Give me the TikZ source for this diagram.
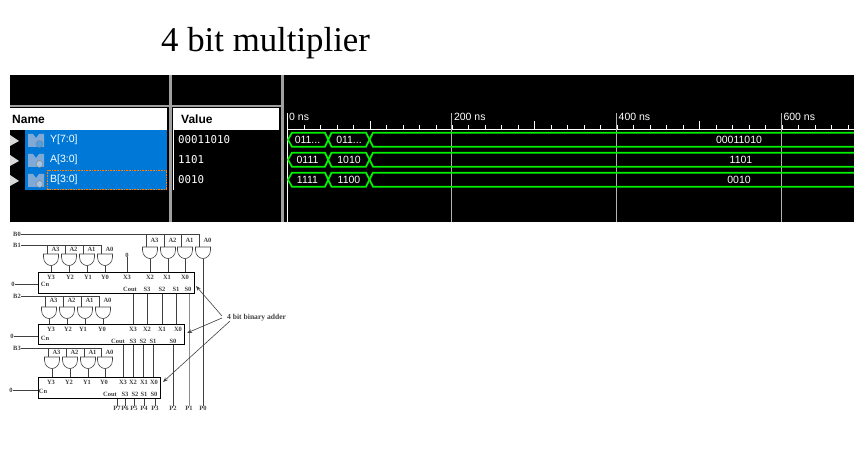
\documentclass[tikz,border=0pt]{standalone}
\usepackage{fontspec}
\setmainfont{Liberation Serif}
\newfontfamily\uifont{Liberation Sans}
\newfontfamily\valfont{DejaVu Sans Mono}
\usetikzlibrary{arrows.meta}
\definecolor{selblue}{HTML}{0078D7}
\definecolor{wavegreen}{HTML}{00F000}
\definecolor{sepgray}{HTML}{A0A0A0}
\definecolor{icongray}{HTML}{7FA9D6}
\definecolor{wirec}{gray}{0.25}
\newcommand{\cuttxt}{011\ignorespaces...}
% name, centre x, top y
\newcommand{\andgate}[3]{
    \coordinate (#1in) at (#2-3.5,#3);
    \coordinate (#1lab) at (#2+3.5,#3);
    \coordinate (#1out) at (#2,#3+11.5);
    \draw[wire] (#2-7.5,#3) -- (#2+7.5,#3) -- (#2+7.5,#3+3)
        .. controls (#2+7.5,#3+9) and (#2+3,#3+11.5) .. (#2,#3+11.5)
        .. controls (#2-3,#3+11.5) and (#2-7.5,#3+9) .. (#2-7.5,#3+3) -- cycle;
}
\tikzset{
    headtxt/.style={font=\uifont\bfseries\fontsize{12}{12}\selectfont, text=black, inner sep=0pt, anchor=west},
    sigtxt/.style={font=\uifont\fontsize{10.5}{11}\selectfont, text=white, inner sep=0pt, anchor=west},
    valtxt/.style={font=\valfont\fontsize{10.8}{11}\selectfont, text=white, inner sep=0pt, anchor=west},
    timetxt/.style={font=\uifont\fontsize{10.5}{11}\selectfont, text=white, inner sep=0pt, anchor=west},
    wavetxt/.style={font=\uifont\fontsize{10.5}{11}\selectfont, text=white, inner sep=0pt},
    wave/.style={draw=wavegreen, line width=1.8pt},
    port/.style={font=\bfseries\fontsize{6.5}{6.5}\selectfont, text=wirec, inner sep=0pt},
    adder/.style={draw=black, line width=0.8pt, anchor=north west, inner sep=0pt},
    wire/.style={draw=wirec, line width=0.6pt},
}
\begin{document}
\begin{tikzpicture}[x=1pt,y=-1pt]
    \useasboundingbox (0,0) rectangle (854,457);
    \node[inner sep=0pt, anchor=base west, font=\fontsize{34.8}{36}\selectfont] (title) at (161,52) {4 bit multiplier};

    % Simulator panels
    \fill[black] (10,75) rectangle (854,222);
    \fill[sepgray] (168.5,75) rectangle (171.5,222);
    \fill[sepgray] (281,75) rectangle (284,222);
    \fill[sepgray] (10,105) rectangle (168.5,107);
    \fill[sepgray] (171.5,105) rectangle (281,107);
    \fill[white] (10,108) rectangle (167,130);
    \fill[white] (173,108) rectangle (279,130);
    \fill[selblue] (25,130) rectangle (167,190);
    \draw[white, line width=0.7pt] (173.5,130) -- (173.5,190);
    \node[headtxt] (namehead) at (12,119) {Name};
    \node[headtxt] (valhead) at (181,119) {Value};

    % Signal rows
    \foreach \n/\s/\v/\y/\c in {y/Y[7:0]/00011010/140/selblue,a/A[3:0]/1101/160/icongray,b/B[3:0]/0010/180/icongray} {
        \fill[black!15] (10,\y-5) -- (19,\y+1) -- (10,\y+6) -- cycle;
        \fill[icongray] (28,\y-6) -- (33,\y-6) -- (36,\y-2) -- (39,\y-6) -- (44,\y-6) -- (44,\y+7) -- (28,\y+7) -- cycle;
        \filldraw[draw=black!50, fill=\c!70!white] (39.5,\y+4) circle (3.5pt);
        \node[sigtxt] (sig\n) at (50,\y) {\s};
        \node[valtxt] (val\n) at (178,\y) {\v};
    }
    \draw[orange, densely dotted, line width=0.6pt] (47.5,170) rectangle (166.5,189.5);

    % Time axis
    \draw[white, line width=0.8pt] (287,129.5) -- (854,129.5);
    \draw[white, line width=0.8pt] (287.5,113) -- (287.5,222);
    \foreach \k in {1,...,34} {
        \draw[white, line width=0.6pt] (287.5+16.48*\k,125) -- (287.5+16.48*\k,129);
    }
    \foreach \k in {5,15,25} {
        \draw[white, line width=0.6pt] (287.5+16.48*\k,121) -- (287.5+16.48*\k,129);
    }
    \foreach \x/\t/\n in {451.8/200/b,616.5/400/c,781.3/600/d} {
        \draw[black!30, line width=0.7pt] (\x,113) -- (\x,222);
        \node[timetxt] (time\n) at (\x+2,117) {\t\ ns};
    }
    \node[timetxt] (timea) at (289,117) {0 ns};

    % Waves
    \foreach \n/\y/\p/\q/\r/\xr in {y/139.7/\cuttxt/\cuttxt/00011010/739,a/159.7/0111/1010/1101/741,b/179.7/1111/1100/0010/739} {
        \draw[wave] (288,\y) -- (292,\y-7) -- (325,\y-7) -- (331.5,\y+7) -- (366,\y+7) -- (369.5,\y) -- (366,\y-7) -- (331.5,\y-7) -- (325,\y+7) -- (292,\y+7) -- cycle;
        \draw[wave] (854,\y-7) -- (373,\y-7) -- (369.5,\y) -- (373,\y+7) -- (854,\y+7);
        \node[wavetxt] (w\n a) at (307.5,\y) {\p};
        \node[wavetxt] (w\n b) at (349,\y) {\q};
        \node[wavetxt] (w\n c) at (\xr,\y) {\r};
    }

    % Adders
    \node[adder, minimum width=156pt, minimum height=21pt] (addone) at (38,272) {};
    \node[adder, minimum width=146pt, minimum height=20pt] (addtwo) at (38,324) {};
    \node[adder, minimum width=122pt, minimum height=21pt] (addthree) at (38,377) {};

    % Partial product gates
    \foreach \i/\x in {3/150,2/168,1/185,0/203} {\andgate{gz\i}{\x}{247}}
    \foreach \i/\x in {3/51,2/69,1/87,0/105} {\andgate{ga\i}{\x}{254}}
    \foreach \i/\x in {3/49,2/67,1/85,0/103} {\andgate{gb\i}{\x}{307}}
    \foreach \i/\x in {3/52,2/70,1/88,0/105} {\andgate{gc\i}{\x}{357}}

    % Multiplier bit wires
    \node[port] (bzero) at (17,234) {B0};
    \node[port] (bone) at (17,245) {B1};
    \node[port] (btwo) at (17,296) {B2};
    \node[port] (bthree) at (17,348) {B3};
    \draw[wire] (bzero) -- (gz0in |- bzero) -- (gz0in);
    \draw[wire] (bone) -- (ga0in |- bone) -- (ga0in);
    \draw[wire] (btwo) -- (gb0in |- btwo) -- (gb0in);
    \draw[wire] (bthree) -- (gc0in |- bthree) -- (gc0in);
    \foreach \g/\b/\h in {gz/bzero/7,ga/bone/5,gb/btwo/7,gc/bthree/5} {
        \foreach \i in {1,2,3} \draw[wire] (\g\i in |- \b) -- (\g\i in);
        \foreach \i in {0,1,2,3} \node[port, anchor=center] (\g txt\i) at ([xshift=1pt,yshift=\h pt]\g\i lab) {A\i};
    }

    % Gate outputs
    \foreach \i in {0,1,2,3} {
        \draw[wire] (ga\i out) -- (ga\i out |- addone.north);
        \draw[wire] (gb\i out) -- (gb\i out |- addtwo.north);
        \draw[wire] (gc\i out) -- (gc\i out |- addthree.north);
    }
    \foreach \i in {1,2,3} \draw[wire] (gz\i out) -- (gz\i out |- addone.north);

    % Adder ports
    \foreach \n/\t/\x/\y in {ya/Y3/51/277,yb/Y2/70/277,yc/Y1/88/277,yd/Y0/105/277,xa/X3/127/277,xb/X2/150/277,xc/X1/167/277,xd/X0/185/277,
        cna/Cn/45/284,coa/Cout/130/289,sa/S3/147/289,sb/S2/162/289,sc/S1/176/289,sd/S0/188/289,
        ye/Y3/51/329,yf/Y2/68/329,yg/Y1/83/329,yh/Y0/102/329,xe/X3/133/329,xf/X2/147/329,xg/X1/162/329,xh/X0/178/329,
        cnb/Cn/45/338,cob/Cout/118/341,se/S3/133/341,sf/S2/143/341,sg/S1/153/341,sh/S0/173/341,
        yi/Y3/51/382,yj/Y2/69/382,yk/Y1/87/382,yl/Y0/104/382,xi/X3/123/382,xj/X2/133/382,xk/X1/144/382,xl/X0/154/382,
        cnc/Cn/43/391,coc/Cout/110/394,si/S3/125/394,sj/S2/135/394,sk/S1/144/394,sl/S0/154/394,
        pseven/P7/117/408,psix/P6/125/408,pfive/P5/134/408,pfour/P4/144/408,pthree/P3/155/408,
        ptwo/P2/173/408,pone/P1/189/408,pzero/P0/203/408}
        \node[port] (\n) at (\x,\y) {\t};

    % Carry in
    \node[port] (zeroa) at (13,284) {0};
    \node[port] (zerob) at (12,336) {0};
    \node[port] (zeroc) at (11,390) {0};
    \node[port] (zerox) at (127,255) {0};
    \draw[wire] (zeroa) -- (addone.west |- zeroa);
    \draw[wire] (zerob) -- (addtwo.west |- zerob);
    \draw[wire] (zeroc) -- (addthree.west |- zeroc);
    \draw[wire] (zerox) -- (zerox |- addone.north);

    % Sum wires between adders
    \foreach \s in {xe,sa,sb,sc} \draw[wire] (\s |- addone.south) -- (\s |- addtwo.north);
    \draw[wire, black!45] (pone |- addone.south) -- (pone.north);
    \draw[wire, line width=0.9pt] (gz0out) -- (gz0out |- pzero.north);
    \foreach \s in {xi,se,sf,sg} \draw[wire] (\s |- addtwo.south) -- (\s |- addthree.north);
    \draw[wire] (ptwo |- addtwo.south) -- (ptwo.north);
    \foreach \p in {pseven,psix,pfive,pfour,pthree} \draw[wire] (\p |- addthree.south) -- (\p.north);

    % Adder callout
    \node[port, anchor=west, font=\bfseries\fontsize{7.6}{8}\selectfont] (addlabel) at (227,318) {4 bit binary adder};
    \coordinate (tipa) at (196,286);
    \coordinate (tipb) at (187,333);
    \coordinate (tipc) at (163,382);
    \coordinate (taila) at (222,316);
    \coordinate (tailb) at (222,318);
    \coordinate (tailc) at (230,321);
    \draw[wire, -{Stealth[length=5pt]}] (taila) -- (tipa);
    \draw[wire, -{Stealth[length=5pt]}] (tailb) -- (tipb);
    \draw[wire, -{Stealth[length=5pt]}] (tailc) -- (tipc);
\end{tikzpicture}
\end{document}
